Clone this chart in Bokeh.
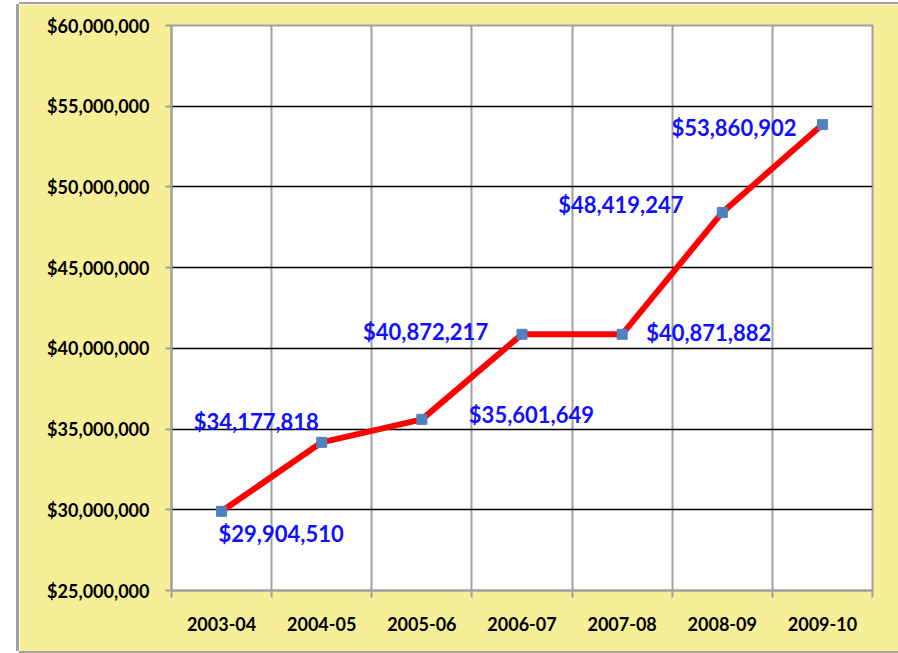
from bokeh.plotting import figure
from bokeh.models import FixedTicker, NumeralTickFormatter, ColumnDataSource, Range1d, Spacer
from bokeh.layouts import row, column
from bokeh.core.properties import value
from bokeh.embed import file_html
from bokeh.resources import INLINE

categories = ["2003-04", "2004-05", "2005-06", "2006-07", "2007-08", "2008-09", "2009-10"]
values = [29904510, 34177818, 35601649, 40872217, 40871882, 48419247, 53860902]
y_ticks = [25000000, 30000000, 35000000, 40000000, 45000000, 50000000, 55000000, 60000000]

label_texts = ["$" + f"{v:,}" for v in values]
# label placement offsets in screen pixels (style, not data)
label_dx = [-3, -128, 47, -159, 24, -164, -151]
label_dy = [22, -21, -5, -3, -2, -8, 3]

n = len(categories)
xs = [i + 0.5 for i in range(n)]

p = figure(width=879, height=647, output_backend="svg", toolbar_location=None,
           x_range=Range1d(0, n), y_range=Range1d(y_ticks[0], y_ticks[-1]),
           min_border_left=152, min_border_top=21, min_border_right=26, min_border_bottom=61)
p.border_fill_color = "#F7EF98"
p.background_fill_color = "white"
p.outline_line_color = "#A0A0A0"
p.outline_line_width = 2
p.styles = {"box-shadow": "-3px 0 0 0 #A0A0A0, 0 -2px 0 0 #A0A0A0, 0 2px 0 0 #A0A0A0"}

# y axis
yax = p.yaxis[0]
yax.ticker = FixedTicker(ticks=y_ticks, minor_ticks=[])
yax.formatter = NumeralTickFormatter(format="$0,0")
yax.major_label_text_font = "Lato"
yax.major_label_text_font_style = "bold"
yax.major_label_text_font_size = "18px"
yax.major_label_text_color = "black"
yax.major_tick_in = 0
yax.major_tick_out = 6
yax.major_tick_line_color = "#A0A0A0"
yax.major_tick_line_width = 2
yax.axis_line_color = "#A0A0A0"
yax.axis_line_width = 2
yax.major_label_standoff = 16

# x axis
xax = p.xaxis[0]
xax.ticker = FixedTicker(ticks=xs, minor_ticks=list(range(n + 1)))
xax.major_label_overrides = {x: c for x, c in zip(xs, categories)}
xax.major_label_text_font = "Lato"
xax.major_label_text_font_style = "bold"
xax.major_label_text_font_size = "18px"
xax.major_label_text_color = "black"
xax.major_tick_line_color = None
xax.major_tick_in = 0
xax.major_tick_out = 0
xax.minor_tick_in = 0
xax.minor_tick_out = 7
xax.minor_tick_line_color = "#A0A0A0"
xax.minor_tick_line_width = 2
xax.axis_line_color = "#A0A0A0"
xax.axis_line_width = 2
xax.major_label_standoff = 19

# grids
p.xgrid.ticker = FixedTicker(ticks=list(range(n + 1)))
p.xgrid.grid_line_color = "#A0A0A0"
p.xgrid.grid_line_width = 2
p.ygrid.ticker = FixedTicker(ticks=y_ticks)
p.ygrid.grid_line_color = "black"
p.ygrid.grid_line_width = 1.5

src = ColumnDataSource(dict(x=xs, y=values, label=label_texts, dx=label_dx, dy=label_dy))

p.line("x", "y", source=src, line_color="#FF0000", line_width=6)
p.scatter("x", "y", source=src, marker="square", size=10,
          fill_color="#4F81BD", line_color="#4F81BD")
p.text(x="x", y="y", text="label", x_offset="dx", y_offset="dy", source=src,
       text_font=value("Lato"), text_font_style="bold", text_font_size="22px",
       text_color="#1010FF", text_align="left", text_baseline="middle")

layout = row(Spacer(width=19, height=651), column(Spacer(width=879, height=4), p))

open("out.html", "w").write(file_html(layout, INLINE))
